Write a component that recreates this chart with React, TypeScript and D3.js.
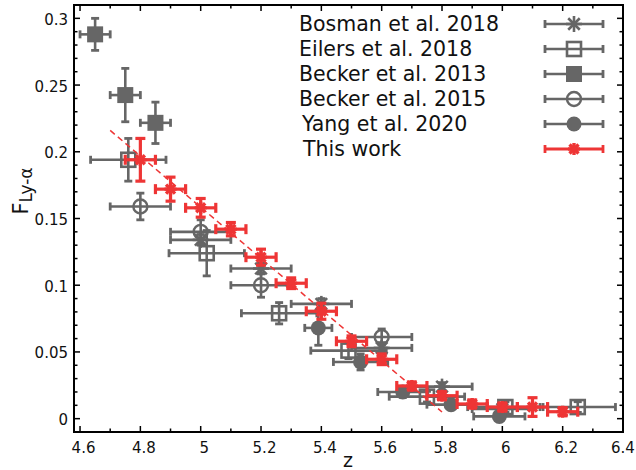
import React from "react";
import * as d3 from "d3";

// ---- data ----
const bosmanZ = [5.0, 5.2, 5.4, 5.6, 5.8, 6.0];
const bosmanF = [0.134, 0.1125, 0.086, 0.053, 0.024, 0.0072];
const bosmanZerr = [0.1, 0.1, 0.1, 0.1, 0.1, 0.1];
const bosmanFerr = [0.004, 0.004, 0.004, 0.004, 0.003, 0.003];

const eilersZ = [4.76, 5.02, 5.26, 5.49, 5.75, 6.01, 6.25];
const eilersF = [0.194, 0.124, 0.079, 0.051, 0.0165, 0.0087, 0.0087];
const eilersZerr = [0.125, 0.125, 0.125, 0.125, 0.125, 0.125, 0.125];
const eilersFerr = [0.016, 0.017, 0.008, 0.006, 0.004, 0.004, 0.004];

const becker13Z = [4.65, 4.75, 4.85];
const becker13F = [0.288, 0.2425, 0.2217];
const becker13Zerr = [0.05, 0.05, 0.05];
const becker13Ferr = [0.012, 0.02, 0.0155];

const becker15Z = [4.8, 5.0, 5.2, 5.6];
const becker15F = [0.159, 0.14, 0.1, 0.0612];
const becker15Zerr = [0.1, 0.1, 0.1, 0.1];
const becker15Ferr = [0.01, 0.009, 0.009, 0.006];

const yangZ = [5.39, 5.53, 5.67, 5.83, 5.99];
const yangF = [0.068, 0.0425, 0.02, 0.0105, 0.0017];
const yangZerr = [0.045, 0.09, 0.083, 0.08, 0.085];
const yangFerr = [0.013, 0.006, 0.004, 0.003, 0.002];

const workZ = [4.8, 4.9, 5.0, 5.1, 5.2, 5.3, 5.4, 5.5, 5.6, 5.7, 5.8, 5.9, 6.0, 6.1, 6.2];
const workF = [0.194, 0.172, 0.158, 0.142, 0.121, 0.1015, 0.0805, 0.058, 0.0445, 0.0245, 0.0172, 0.011, 0.0087, 0.0087, 0.0052];
const workZerr = [0.05, 0.05, 0.05, 0.05, 0.05, 0.05, 0.05, 0.05, 0.05, 0.05, 0.05, 0.05, 0.05, 0.05, 0.05];
const workFerr = [0.016, 0.009, 0.007, 0.005, 0.006, 0.004, 0.006, 0.004, 0.004, 0.003, 0.003, 0.003, 0.003, 0.007, 0.003];

const fitZ = [4.7, 5.8];
const fitF = [0.216, 0.005];

const xTicks = [4.6, 4.8, 5.0, 5.2, 5.4, 5.6, 5.8, 6.0, 6.2, 6.4];
const xTickLabels = ["4.6", "4.8", "5", "5.2", "5.4", "5.6", "5.8", "6", "6.2", "6.4"];
const yTicks = [0, 0.05, 0.1, 0.15, 0.2, 0.25, 0.3];
const yTickLabels = ["0", "0.05", "0.1", "0.15", "0.2", "0.25", "0.3"];

const legendLabels = ["Bosman et al. 2018", "Eilers et al. 2018", "Becker et al. 2013", "Becker et al. 2015", "Yang et al. 2020", "This work"];

const GRAY = "#666666";
const RED = "#ee3535";
const FONT = "DejaVu Sans, sans-serif";

const L = 74, R = 623, T = 5, B = 432;
const x = d3.scaleLinear().domain([4.58, 6.4]).range([L, R]);
const y = d3.scaleLinear().domain([-0.01, 0.31]).range([B, T]);

type MType = "asterisk" | "openSquare" | "filledSquare" | "openCircle" | "filledCircle" | "redStar";

function Marker({ type, cx, cy, color }: { type: MType; cx: number; cy: number; color: string }) {
  if (type === "asterisk") {
    const r = 8;
    const d = r * 0.72;
    return (
      <g stroke={color} strokeWidth={2.6} strokeLinecap="butt">
        <line x1={cx - r} y1={cy} x2={cx + r} y2={cy} />
        <line x1={cx} y1={cy - r} x2={cx} y2={cy + r} />
        <line x1={cx - d} y1={cy - d} x2={cx + d} y2={cy + d} />
        <line x1={cx - d} y1={cy + d} x2={cx + d} y2={cy - d} />
      </g>
    );
  }
  if (type === "redStar") {
    const r = 6;
    const d = r * 0.75;
    return (
      <g stroke={color} strokeWidth={3.4}>
        <line x1={cx - r} y1={cy} x2={cx + r} y2={cy} />
        <line x1={cx} y1={cy - r} x2={cx} y2={cy + r} />
        <line x1={cx - d} y1={cy - d} x2={cx + d} y2={cy + d} />
        <line x1={cx - d} y1={cy + d} x2={cx + d} y2={cy - d} />
      </g>
    );
  }
  if (type === "openSquare") {
    const s = 14;
    return <rect x={cx - s / 2} y={cy - s / 2} width={s} height={s} fill="none" stroke={color} strokeWidth={2.6} />;
  }
  if (type === "filledSquare") {
    const s = 16;
    return <rect x={cx - s / 2} y={cy - s / 2} width={s} height={s} fill={color} stroke="none" />;
  }
  if (type === "openCircle") {
    return <circle cx={cx} cy={cy} r={7} fill="none" stroke={color} strokeWidth={2.4} />;
  }
  return <circle cx={cx} cy={cy} r={7.5} fill={color} stroke="none" />;
}

function ErrPoint({ z, f, zerr, ferr, type, color, red }: { z: number; f: number; zerr: number; ferr: number; type: MType; color: string; red?: boolean }) {
  const cx = x(z), cy = y(f);
  const x0 = x(z - zerr), x1 = x(z + zerr);
  const y0 = y(f - ferr), y1 = y(f + ferr);
  const sw = red ? 3.2 : 2.6;
  const cap = red ? 5 : 4;
  const capW = red ? 3.2 : 2.8;
  return (
    <g>
      <g stroke={color} strokeWidth={sw}>
        <line x1={x0} y1={cy} x2={x1} y2={cy} />
        <line x1={cx} y1={y0} x2={cx} y2={y1} />
      </g>
      <g stroke={color} strokeWidth={capW}>
        <line x1={x0} y1={cy - cap} x2={x0} y2={cy + cap} />
        <line x1={x1} y1={cy - cap} x2={x1} y2={cy + cap} />
        <line x1={cx - cap} y1={y0} x2={cx + cap} y2={y0} />
        <line x1={cx - cap} y1={y1} x2={cx + cap} y2={y1} />
      </g>
      <Marker type={type} cx={cx} cy={cy} color={color} />
    </g>
  );
}

function Series({ zs, fs, zerr, ferr, type, color, red }: { zs: number[]; fs: number[]; zerr: number[]; ferr: number[]; type: MType; color: string; red?: boolean }) {
  return (
    <g>
      {zs.map((z, i) => (
        <ErrPoint key={i} z={z} f={fs[i]} zerr={zerr[i]} ferr={ferr[i]} type={type} color={color} red={red} />
      ))}
    </g>
  );
}

export default function App() {
  const xMinor = d3.range(4.6, 6.4001, 0.1);
  const yMinor = d3.range(0, 0.3101, 0.01);
  const line = d3.line<number>().x((_, i) => x(fitZ[i])).y((d) => y(d));
  const legendTypes: MType[] = ["asterisk", "openSquare", "filledSquare", "openCircle", "filledCircle", "redStar"];
  const legendX = [299, 299, 299, 299, 302, 303];
  const legendY = [24, 49, 74, 99, 124, 149];
  return (
    <svg width={636} height={470} style={{ position: "absolute", left: 0, top: 0, background: "#fff" }} fontFamily={FONT}>
      <rect x={0} y={0} width={636} height={470} fill="#fff" />
      {/* data */}
      <Series zs={bosmanZ} fs={bosmanF} zerr={bosmanZerr} ferr={bosmanFerr} type="asterisk" color={GRAY} />
      <Series zs={eilersZ} fs={eilersF} zerr={eilersZerr} ferr={eilersFerr} type="openSquare" color={GRAY} />
      <Series zs={becker13Z} fs={becker13F} zerr={becker13Zerr} ferr={becker13Ferr} type="filledSquare" color={GRAY} />
      <Series zs={becker15Z} fs={becker15F} zerr={becker15Zerr} ferr={becker15Ferr} type="openCircle" color={GRAY} />
      <Series zs={yangZ} fs={yangF} zerr={yangZerr} ferr={yangFerr} type="filledCircle" color={GRAY} />
      <path d={line(fitF) || ""} fill="none" stroke={RED} strokeWidth={1.5} strokeDasharray="6,4" />
      <Series zs={workZ} fs={workF} zerr={workZerr} ferr={workFerr} type="redStar" color={RED} red />

      {/* legend */}
      {legendLabels.map((lab, i) => {
        const ly = legendY[i];
        const col = i === 5 ? RED : GRAY;
        const sw = i === 5 ? 3.2 : 2.6;
        return (
          <g key={lab}>
            <text x={legendX[i]} y={ly + 7} fontSize={20.5} fill="#111">{lab}</text>
            <line x1={545} y1={ly} x2={603} y2={ly} stroke={col} strokeWidth={sw} />
            <line x1={545} y1={ly - 4} x2={545} y2={ly + 4} stroke={col} strokeWidth={2.8} />
            <line x1={603} y1={ly - 4} x2={603} y2={ly + 4} stroke={col} strokeWidth={2.8} />
            <Marker type={legendTypes[i]} cx={574} cy={ly} color={col} />
          </g>
        );
      })}

      {/* ticks */}
      <g stroke="#000" strokeWidth={1.5}>
        {xMinor.map((v, i) => (
          <g key={"xm" + i}>
            <line x1={x(v)} y1={B} x2={x(v)} y2={B - (i % 2 === 0 ? 6 : 3.5)} />
            <line x1={x(v)} y1={T} x2={x(v)} y2={T + (i % 2 === 0 ? 6 : 3.5)} />
          </g>
        ))}
        {yMinor.map((v, i) => (
          <g key={"ym" + i}>
            <line x1={L} y1={y(v)} x2={L + (i % 5 === 0 ? 6 : 3.5)} y2={y(v)} />
            <line x1={R} y1={y(v)} x2={R - (i % 5 === 0 ? 6 : 3.5)} y2={y(v)} />
          </g>
        ))}
      </g>
      <rect x={L} y={T} width={R - L} height={B - T} fill="none" stroke="#000" strokeWidth={2} />

      {/* tick labels */}
      {xTicks.map((v, i) => (
        <text key={"xl" + i} x={Math.min(x(v) + 3.5, 623)} y={453} fontSize={15} textAnchor="middle" fill="#111">{xTickLabels[i]}</text>
      ))}
      {yTicks.map((v, i) => (
        <text key={"yl" + i} x={68} y={y(v) + 6.5} fontSize={15} textAnchor="end" fill="#111">{yTickLabels[i]}</text>
      ))}
      <text x={348} y={467} fontSize={19} textAnchor="middle" fill="#111">z</text>
      <text transform="translate(28,191) rotate(-90)" textAnchor="middle" fill="#111">
        <tspan fontSize={21}>F</tspan>
        <tspan fontSize={17} dy={4}>Ly-α</tspan>
      </text>
    </svg>
  );
}
